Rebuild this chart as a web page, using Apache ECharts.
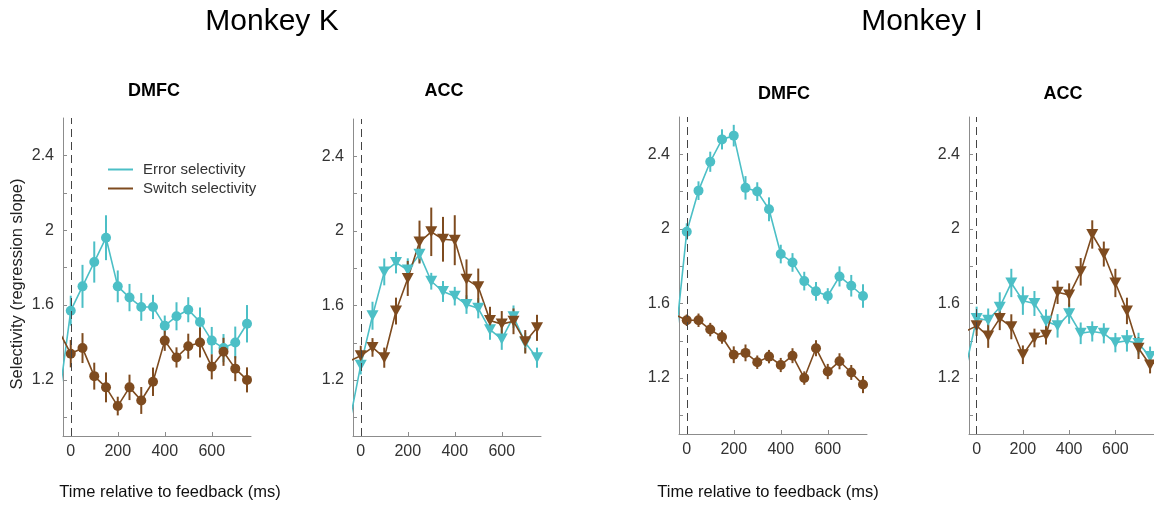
<!DOCTYPE html>
<html>
<head>
<meta charset="utf-8">
<script src="https://cdn.jsdelivr.net/npm/echarts@6/dist/echarts.min.js"></script>
<style>
html,body{margin:0;padding:0;background:#fff;}
#chart{width:1154px;height:506px;}
</style>
</head>
<body>
<div id="chart"></div>
<script>
// ---- data ----
const times = [-50, 0, 50, 100, 150, 200, 250, 300, 350, 400, 450, 500, 550, 600, 650, 700, 750];
const xTicks = [0, 200, 400, 600];
const yTicks = [1.0, 1.2, 1.4, 1.6, 1.8, 2.0, 2.2, 2.4];
const yLabels = [1.2, 1.6, 2.0, 2.4];
const seriesNames = ['Error selectivity', 'Switch selectivity'];
const monkeyTitles = ['Monkey K', 'Monkey I'];
const areaTitles = ['DMFC', 'ACC', 'DMFC', 'ACC'];
const xTitle = 'Time relative to feedback (ms)';
const yTitle = 'Selectivity (regression slope)';

// Monkey K, DMFC
const kDmfcErr   = [1.10, 1.57, 1.70, 1.83, 1.96, 1.70, 1.64, 1.59, 1.59, 1.49, 1.54, 1.575, 1.51, 1.41, 1.37, 1.40, 1.50];
const kDmfcErrSe = [null, 0.08, 0.115, 0.11, 0.12, 0.085, 0.073, 0.074, 0.065, 0.054, 0.075, 0.067, 0.077, 0.073, 0.075, 0.085, 0.10];
const kDmfcSw    = [1.46, 1.34, 1.37, 1.22, 1.16, 1.06, 1.16, 1.09, 1.19, 1.41, 1.32, 1.38, 1.40, 1.27, 1.35, 1.26, 1.20];
const kDmfcSwSe  = [null, 0.073, 0.08, 0.072, 0.08, 0.05, 0.068, 0.072, 0.076, 0.055, 0.054, 0.067, 0.08, 0.067, 0.075, 0.067, 0.067];
// Monkey K, ACC
const kAccErr    = [0.96, 1.28, 1.545, 1.78, 1.83, 1.79, 1.875, 1.73, 1.675, 1.65, 1.605, 1.585, 1.47, 1.42, 1.54, 1.40, 1.32];
const kAccErrSe  = [null, 0.05, 0.075, 0.072, 0.058, 0.063, 0.045, 0.045, 0.056, 0.05, 0.05, 0.054, 0.054, 0.058, 0.06, 0.054, 0.054];
const kAccSw     = [1.30, 1.33, 1.375, 1.32, 1.57, 1.745, 1.94, 1.995, 1.955, 1.95, 1.74, 1.70, 1.52, 1.50, 1.515, 1.405, 1.48];
const kAccSwSe   = [null, 0.054, 0.05, 0.054, 0.072, 0.094, 0.115, 0.13, 0.12, 0.134, 0.107, 0.098, 0.073, 0.07, 0.069, 0.063, 0.07];
// Monkey I, DMFC
const iDmfcErr   = [1.38, 1.985, 2.205, 2.36, 2.48, 2.50, 2.22, 2.20, 2.105, 1.865, 1.82, 1.72, 1.665, 1.64, 1.745, 1.695, 1.64];
const iDmfcErrSe = [null, 0.045, 0.05, 0.054, 0.054, 0.058, 0.063, 0.05, 0.064, 0.05, 0.05, 0.05, 0.05, 0.042, 0.054, 0.058, 0.063];
const iDmfcSw    = [1.54, 1.51, 1.51, 1.46, 1.42, 1.325, 1.335, 1.285, 1.315, 1.27, 1.32, 1.20, 1.36, 1.235, 1.29, 1.23, 1.165];
const iDmfcSwSe  = [null, 0.031, 0.036, 0.036, 0.036, 0.045, 0.045, 0.036, 0.036, 0.038, 0.04, 0.036, 0.043, 0.041, 0.043, 0.04, 0.046];
// Monkey I, ACC
const iAccErr    = [1.24, 1.52, 1.51, 1.58, 1.71, 1.615, 1.60, 1.505, 1.48, 1.545, 1.44, 1.45, 1.44, 1.39, 1.40, 1.385, 1.315];
const iAccErrSe  = [null, 0.063, 0.063, 0.08, 0.076, 0.076, 0.067, 0.063, 0.063, 0.054, 0.058, 0.054, 0.054, 0.052, 0.058, 0.058, 0.054];
const iAccSw     = [1.45, 1.48, 1.425, 1.52, 1.475, 1.325, 1.415, 1.43, 1.66, 1.645, 1.77, 1.97, 1.865, 1.71, 1.56, 1.36, 1.27];
const iAccSwSe   = [null, 0.054, 0.063, 0.063, 0.067, 0.05, 0.05, 0.05, 0.063, 0.063, 0.074, 0.076, 0.067, 0.076, 0.071, 0.058, 0.045];

// ---- build ----
const FONT = '"Liberation Sans", Arial, Helvetica, sans-serif';
const CYAN = '#4CBFC6';
const BROWN = '#7E4B1F';
const AXIS = '#8c8c8c';
const TXT = '#333';

const panels = [
  {err: kDmfcErr, errSe: kDmfcErrSe, sw: kDmfcSw, swSe: kDmfcSwSe, symbol: 'circle', grid: {left: 63, top: 118, width: 188, height: 318}},
  {err: kAccErr,  errSe: kAccErrSe,  sw: kAccSw,  swSe: kAccSwSe,  symbol: 'triangle', grid: {left: 353, top: 119, width: 188, height: 317}},
  {err: iDmfcErr, errSe: iDmfcErrSe, sw: iDmfcSw, swSe: iDmfcSwSe, symbol: 'circle', grid: {left: 679, top: 117, width: 188, height: 317}},
  {err: iAccErr,  errSe: iAccErrSe,  sw: iAccSw,  swSe: iAccSwSe,  symbol: 'triangle', grid: {left: 969, top: 117, width: 188, height: 317}}
];

const grids = [], xAxes = [], yAxes = [], series = [];

function errBarSeries(idx, vals, se, color) {
  const data = [];
  times.forEach((t, i) => { if (se[i] != null) data.push([t, vals[i] - se[i], vals[i] + se[i]]); });
  return {
    type: 'custom', xAxisIndex: idx, yAxisIndex: idx, silent: true,
    data: data, encode: {x: 0, y: [1, 2]},
    renderItem: function (params, api) {
      const p1 = api.coord([api.value(0), api.value(1)]);
      const p2 = api.coord([api.value(0), api.value(2)]);
      return {type: 'line', shape: {x1: p1[0], y1: p1[1], x2: p2[0], y2: p2[1]},
              style: {stroke: color, lineWidth: 2}};
    }
  };
}

function lineSeries(idx, name, vals, color, symbol, withMark) {
  const s = {
    type: 'line', name: name, xAxisIndex: idx, yAxisIndex: idx, silent: true,
    data: times.map((t, i) => [t, vals[i]]),
    symbol: symbol, symbolSize: symbol === 'triangle' ? [12, 11] : 10,
    symbolRotate: symbol === 'triangle' ? 180 : 0,
    lineStyle: {color: color, width: 1.6}, itemStyle: {color: color},
    clip: true, animation: false
  };
  if (withMark) {
    s.markLine = {silent: true, symbol: ['none', 'none'], label: {show: false},
      lineStyle: {color: '#444', type: [8, 5], width: 1}, data: [{xAxis: 0}]};
  }
  return s;
}

panels.forEach((p, i) => {
  grids.push(p.grid);
  xAxes.push({
    type: 'value', gridIndex: i, min: -33, max: 767,
    axisLine: {show: true, onZero: false, lineStyle: {color: AXIS, width: 1}},
    axisTick: {show: true, inside: true, length: 4, customValues: xTicks, lineStyle: {color: AXIS}},
    axisLabel: {customValues: xTicks, color: TXT, fontSize: 16, fontFamily: FONT, margin: 8},
    splitLine: {show: false}
  });
  yAxes.push({
    type: 'value', gridIndex: i, min: 0.9, max: 2.6,
    axisLine: {show: true, onZero: false, lineStyle: {color: AXIS, width: 1}},
    axisTick: {show: true, inside: true, length: 4, customValues: yTicks, lineStyle: {color: AXIS}},
    axisLabel: {customValues: yLabels, color: TXT, fontSize: 16, fontFamily: FONT, margin: 9,
                formatter: v => String(+v.toFixed(1))},
    splitLine: {show: false}
  });
  series.push(errBarSeries(i, p.err, p.errSe, CYAN));
  series.push(lineSeries(i, seriesNames[0], p.err, CYAN, p.symbol, true));
  series.push(errBarSeries(i, p.sw, p.swSe, BROWN));
  series.push(lineSeries(i, seriesNames[1], p.sw, BROWN, p.symbol, false));
});

function txt(x, y, text, size, weight, fill, rotation) {
  return {type: 'text', x: x, y: y, silent: true, rotation: rotation || 0,
    style: {text: text, fontSize: size, fontWeight: weight || 'normal', fontFamily: FONT,
            fill: fill || '#000', align: 'center', verticalAlign: 'middle'}};
}

const graphics = [
  txt(272, 22, monkeyTitles[0], 30),
  txt(922, 22, monkeyTitles[1], 30),
  txt(154, 91, areaTitles[0], 18, 'bold'),
  txt(444, 91, areaTitles[1], 18, 'bold'),
  txt(784, 94, areaTitles[2], 18, 'bold'),
  txt(1063, 94, areaTitles[3], 18, 'bold'),
  txt(170, 492, xTitle, 16.5, 'normal', '#111'),
  txt(768, 492, xTitle, 16.5, 'normal', '#111'),
  txt(17, 284, yTitle, 16.5, 'normal', '#222', Math.PI / 2)
];

const chart = echarts.init(document.getElementById('chart'), null, {renderer: 'canvas'});
chart.setOption({
  animation: false,
  backgroundColor: '#fff',
  grid: grids, xAxis: xAxes, yAxis: yAxes, series: series,
  legend: {
    orient: 'vertical', left: 108, top: 162, padding: 0, itemWidth: 25, itemHeight: 2, itemGap: 4,
    icon: 'rect', selectedMode: false, data: seriesNames,
    textStyle: {fontSize: 15, color: TXT, fontFamily: FONT, padding: [0, 0, 0, 5]}
  },
  graphic: graphics
});
</script>
</body>
</html>
